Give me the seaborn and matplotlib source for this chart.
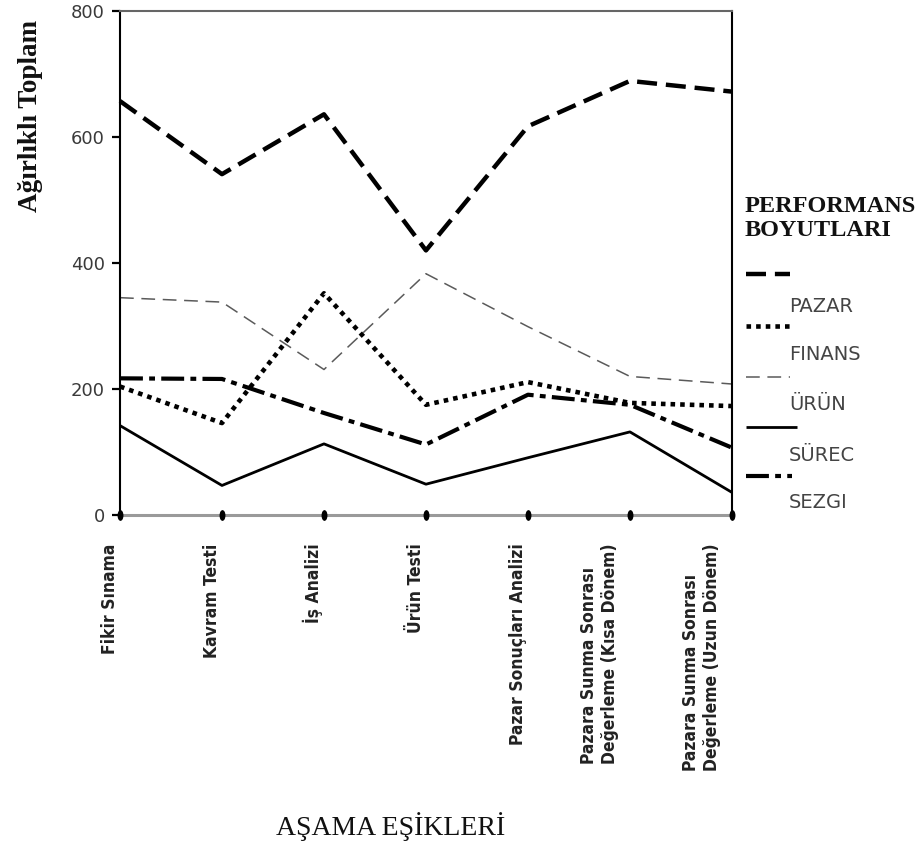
import numpy as np
import pandas as pd
import seaborn as sns
import matplotlib
matplotlib.use("Agg")
import matplotlib.pyplot as plt
from matplotlib.lines import Line2D
from matplotlib.path import Path
from matplotlib.transforms import Affine2D, ScaledTranslation

# Stage thresholds on the x axis
stages = [
    "Fikir Sınama",
    "Kavram Testi",
    "İş Analizi",
    "Ürün Testi",
    "Pazar Sonuçları Analizi",
    "Pazara Sunma Sonrası\nDeğerleme (Kısa Dönem)",
    "Pazara Sunma Sonrası\nDeğerleme (Uzun Dönem)",
]

# Weighted totals per performance dimension
pazar = [657, 541, 636, 420, 617, 689, 672]
finans = [204, 146, 352, 175, 211, 178, 173]
urun = [345, 338, 231, 383, 299, 220, 208]
surec = [142, 47, 113, 49, 91, 132, 36]
sezgi = [217, 216, 162, 112, 191, 175, 107]

series_names = ["PAZAR", "FINANS", "ÜRÜN", "SÜREC", "SEZGI"]
yticks = [0, 200, 400, 600, 800]

sns.set_theme(style="white")
plt.rcParams["font.family"] = ["DejaVu Sans"]

fig = plt.figure(figsize=(9.23, 8.43), dpi=100)
ax = fig.add_axes([0.130, 0.389, 0.663, 0.598])

styles = {
    "PAZAR": dict(color="black", lw=3.2, ls=(0, (4.5, 2.0))),
    "FINANS": dict(color="black", lw=3.3, ls=(0, (1.0, 1.1))),
    "ÜRÜN": dict(color="#5a5a5a", lw=1.1, ls=(0, (9, 5))),
    "SÜREC": dict(color="black", lw=2.0, ls="-"),
    "SEZGI": dict(color="black", lw=3.0, ls=(0, (5.5, 1.5, 1.4, 1.5))),
}

df = pd.DataFrame({"x": np.arange(len(stages))})
for name, vals in zip(series_names, [pazar, finans, urun, surec, sezgi]):
    st = styles[name]
    sns.lineplot(x=df["x"], y=vals, ax=ax, color=st["color"], linewidth=st["lw"],
                 linestyle=st["ls"], dash_capstyle="butt", solid_capstyle="butt",
                 clip_on=False, legend=False)

ax.set_xlim(0, len(stages) - 1)
ax.set_ylim(0, 800)
ax.set_yticks(yticks)
ax.set_yticklabels([str(v) for v in yticks])
ax.tick_params(axis="y", direction="out", length=6, width=1.6, color="black",
               labelsize=13, labelcolor="#3a3a3a", pad=5, left=True)
ax.set_xticks(np.arange(len(stages)))
ax.set_xticklabels([])
ax.tick_params(axis="x", length=0)
ax.set_xlabel("")
ax.set_ylabel("")

for side in ["left", "right"]:
    ax.spines[side].set_color("black")
    ax.spines[side].set_linewidth(1.5)
ax.spines["top"].set_color("#666666")
ax.spines["top"].set_linewidth(1.5)
ax.spines["bottom"].set_color("#9a9a9a")
ax.spines["bottom"].set_linewidth(2.2)

# Oval markers on the category positions along the baseline
oval = Path.unit_circle().transformed(Affine2D().scale(0.55, 1.0))
ax.scatter(np.arange(len(stages)), np.zeros(len(stages)), marker=oval, s=60,
           color="black", clip_on=False, zorder=5, linewidths=0)

# Rotated stage labels; two-line labels sit a little further left of their tick
for i, lab in enumerate(stages):
    shift_px = -1 if "\n" not in lab else -11
    tr = ax.transData + ScaledTranslation(shift_px / 100, 0, fig.dpi_scale_trans)
    ax.text(i, -45, lab, rotation=90, ha="right", va="top", ma="left",
            fontsize=12.5, color="#222222", fontweight="bold",
            family="DejaVu Sans", fontstretch="condensed",
            transform=tr, clip_on=False)

# Axis titles
fig.text(0.033, 0.862, "Ağırlıklı Toplam", rotation=90, ha="center", va="center",
         fontsize=19.5, fontweight="bold", family="Liberation Serif", color="#111111")
fig.text(0.423, 0.020, "AŞAMA EŞİKLERİ", ha="center", va="center",
         fontsize=20, family="Liberation Serif", color="#111111")

# Legend block on the right
W, H = 923, 843
def fx(px):
    return px / W
def fy(py):
    return 1 - py / H

fig.text(fx(745), fy(207), "PERFORMANS", ha="left", va="center", fontsize=17.5,
         fontweight="bold", family="Liberation Serif", color="#111111")
fig.text(fx(745), fy(231), "BOYUTLARI", ha="left", va="center", fontsize=17.5,
         fontweight="bold", family="Liberation Serif", color="#111111")

leg_line_y = [274, 326, 377, 427, 476]
leg_text_y = [306, 355, 405, 455, 503]
leg_len = [44, 44, 44, 51, 46]
for name, ly, ty, ln in zip(series_names, leg_line_y, leg_text_y, leg_len):
    st = styles[name]
    fig.add_artist(Line2D([fx(746), fx(746 + ln)], [fy(ly), fy(ly)], color=st["color"],
                          linewidth=max(st["lw"], 1.0), linestyle=st["ls"],
                          dash_capstyle="butt", solid_capstyle="butt",
                          transform=fig.transFigure))
    fig.text(fx(789), fy(ty), name, ha="left", va="center", fontsize=14,
             color="#444444", family="DejaVu Sans")

fig.savefig("out.png", dpi=100)
